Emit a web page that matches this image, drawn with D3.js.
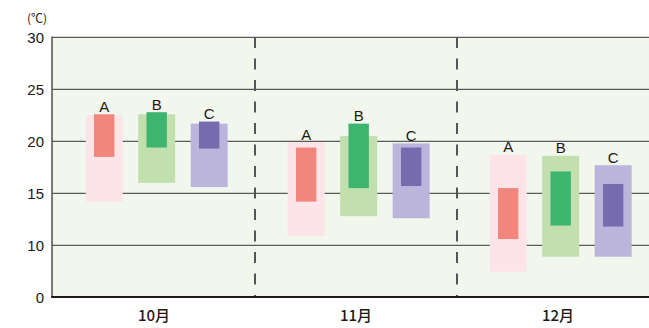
<!DOCTYPE html>
<html><head><meta charset="utf-8">
<script src="https://cdn.jsdelivr.net/npm/d3@7/dist/d3.min.js"></script>
<style>html,body{margin:0;padding:0;background:#fff;overflow:hidden}</style>
</head><body>
<svg id="c" width="649" height="328"></svg>
<script>
const months = ["10月", "11月", "12月"];
const seriesNames = ["A", "B", "C"];
const yTicks = [0, 10, 15, 20, 25, 30];
// wide (light) range: [high, low] per month
const rangeA = [[22.5, 14.2], [19.9, 10.9], [18.7, 4.9]];
const rangeB = [[22.6, 16.0], [20.5, 12.8], [18.6, 7.8]];
const rangeC = [[21.7, 15.6], [19.8, 12.6], [17.7, 7.8]];
// core (dark) range: [high, low] per month
const coreA = [[22.6, 18.5], [19.4, 14.2], [15.5, 10.6]];
const coreB = [[22.8, 19.4], [21.7, 15.5], [17.1, 11.9]];
const coreC = [[21.9, 19.3], [19.4, 15.7], [15.9, 11.8]];

const lightCol = {A: "#fce4e8", B: "#c1e0ad", C: "#bbb5db"};
const darkCol = {A: "#f2867c", B: "#3eb56f", C: "#766baf"};
const ranges = {A: rangeA, B: rangeB, C: rangeC};
const cores = {A: coreA, B: coreB, C: coreC};

const svg = d3.select("#c");
const L = 52, T = 37, B = 297, R = 649;
const y = d3.scaleLinear().domain([0, 10, 30]).range([297.3, 245.3, 37.3]);
const x = d3.scaleBand().domain(months).range([53, 659]).padding(0);
const xs = d3.scaleBand().domain(seriesNames).range([0, x.bandwidth()])
  .paddingInner(0).paddingOuter(0.424).align(0.56);

svg.append("rect").attr("x", L).attr("y", T).attr("width", R - L).attr("height", B - T).attr("fill", "#f2f7ed");

// gridlines
svg.append("g").selectAll("line").data(yTicks.filter(d => d > 0)).join("line")
  .attr("x1", L).attr("x2", R).attr("y1", d => y(d)).attr("y2", d => y(d))
  .attr("stroke", "#5a5a5a").attr("stroke-width", 1.2);

// dashed separators
svg.append("g").selectAll("line").data(months.slice(1)).join("line")
  .attr("x1", d => x(d)).attr("x2", d => x(d)).attr("y1", T).attr("y2", B)
  .attr("stroke", "#555").attr("stroke-width", 2).attr("stroke-dasharray", "11,10.5");

const lw = 37, dw = 20.4;
const bars = [];
months.forEach((m, i) => seriesNames.forEach(s => bars.push({m, i, s})));
const cx = d => x(d.m) + xs(d.s) + xs.bandwidth() / 2;

svg.append("g").selectAll("rect").data(bars).join("rect")
  .attr("x", d => cx(d) - lw / 2).attr("width", lw)
  .attr("y", d => y(ranges[d.s][d.i][0]))
  .attr("height", d => y(ranges[d.s][d.i][1]) - y(ranges[d.s][d.i][0]))
  .attr("fill", d => lightCol[d.s]);
svg.append("g").selectAll("rect").data(bars).join("rect")
  .attr("x", d => cx(d) - dw / 2).attr("width", dw)
  .attr("y", d => y(cores[d.s][d.i][0]))
  .attr("height", d => y(cores[d.s][d.i][1]) - y(cores[d.s][d.i][0]))
  .attr("fill", d => darkCol[d.s]);
svg.append("g").selectAll("text").data(bars).join("text")
  .attr("x", cx)
  .attr("y", d => y(Math.max(ranges[d.s][d.i][0], cores[d.s][d.i][0])) - 2.5)
  .attr("text-anchor", "middle").attr("font-family", "Liberation Sans, Arial, sans-serif")
  .attr("font-size", 15).attr("fill", "#231815").text(d => d.s);

// axes lines
svg.append("line").attr("x1", L).attr("x2", L).attr("y1", T - 0.5).attr("y2", B)
  .attr("stroke", "#5a5a5a").attr("stroke-width", 1.6);
svg.append("line").attr("x1", L - 0.8).attr("x2", R).attr("y1", B).attr("y2", B)
  .attr("stroke", "#231815").attr("stroke-width", 2);

// y tick labels
svg.append("g").selectAll("text").data(yTicks).join("text")
  .attr("x", 44).attr("y", d => y(d) + 5.5).attr("text-anchor", "end")
  .attr("font-family", "Liberation Sans, Arial, sans-serif").attr("font-size", 15)
  .attr("fill", "#231815").text(d => d);

svg.append("text").attr("x", 37).attr("y", 22.5).attr("text-anchor", "middle")
  .attr("font-family", "Noto Sans CJK JP, sans-serif").attr("font-size", 12)
  .attr("fill", "#231815").text("(℃)");

// month labels
svg.append("g").selectAll("text").data(months).join("text")
  .attr("x", d => x(d) + x.bandwidth() / 2).attr("y", 321)
  .attr("text-anchor", "middle").attr("font-family", "Noto Sans CJK JP, sans-serif")
  .attr("font-size", 15).attr("font-weight", 500).attr("fill", "#231815").text(d => d);
</script>
</body></html>
